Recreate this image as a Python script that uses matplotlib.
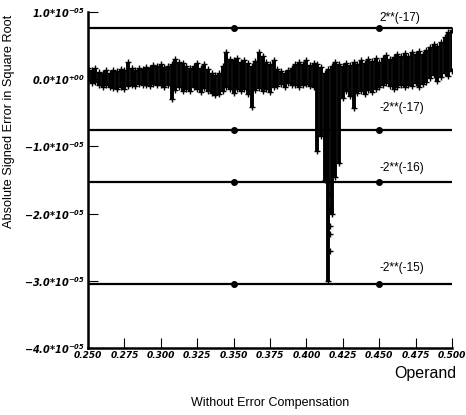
import numpy as np
import matplotlib
matplotlib.use("Agg")
import matplotlib.pyplot as plt

plt.rcParams['font.family'] = ['Liberation Sans', 'DejaVu Sans']
plt.rcParams['mathtext.fontset'] = 'custom'
plt.rcParams['mathtext.rm'] = 'DejaVu Sans:italic:bold'
plt.rcParams['mathtext.it'] = 'DejaVu Sans:italic:bold'
plt.rcParams['mathtext.bf'] = 'DejaVu Sans:italic:bold'

# operand samples (0.250 .. 0.500, step 0.0025)
operand = np.linspace(0.25, 0.5, 101)

# upper / lower extent of the error trace at each sample, in units of 1e-6
err_upper = [1.6, 1.4, 1.7, 1.1, 1.0, 1.3, 1.0, 1.4, 1.2, 1.5,
             1.3, 2.6, 1.6, 1.4, 1.7, 1.5, 1.8, 1.6, 2.1, 1.9,
             2.2, 1.8, 2.0, 2.3, 3.0, 2.6, 2.4, 1.9, 1.6, 2.0,
             2.4, 1.7, 2.2, 1.5, 0.9, 0.7, 1.0, 1.9, 4.0, 3.0,
             2.8, 3.2, 2.6, 2.9, 2.4, 2.0, 2.7, 4.0, 3.4, 2.5,
             2.2, 2.8, 1.5, 1.2, 1.0, 1.4, 1.7, 2.2, 2.5, 2.3,
             2.9, 2.1, 2.4, 2.2, 1.8, 1.0, 1.5, 2.0, 2.6, 2.2,
             2.0, 2.4, 2.1, 2.6, 2.2, 2.8, 2.4, 3.0, 2.7, 3.2,
             2.6, 3.1, 3.6, 3.0, 3.3, 3.8, 3.4, 3.9, 3.5, 4.0,
             3.7, 4.2, 3.8, 4.3, 4.8, 5.2, 4.9, 5.6, 6.3, 7.0,
             7.4]
err_lower = [-0.3, -0.5, -0.4, -0.9, -1.1, -0.8, -1.2, -1.3, -1.5, -1.1,
             -1.4, -1.0, -0.8, -1.0, -0.7, -0.9, -0.8, -1.0, -0.7, -0.9,
             -0.8, -1.1, -0.9, -3.0, -1.6, -1.2, -1.8, -1.4, -1.7, -1.2,
             -1.5, -1.9, -1.3, -1.8, -2.0, -2.4, -2.2, -1.8, -1.2, -1.5,
             -2.0, -1.4, -1.8, -1.5, -2.2, -4.1, -1.6, -1.3, -1.8, -1.4,
             -1.9, -1.2, -1.0, -0.7, -1.1, -0.6, -0.9, -0.8, -1.1, -0.9,
             -0.7, -1.0, -1.2, -10.7, -8.5, -15.0, -30.0, -20.0, -14.5, -12.5,
             -2.8, -1.8, -2.5, -4.3, -2.0, -1.8, -2.2, -1.6, -1.9, -1.4,
             -1.2, -0.9, -0.6, -1.0, -1.4, -1.2, -0.9, -1.1, -0.8, -1.0,
             -0.6, -1.1, -0.7, -0.4, 0.2, 0.6, -0.2, 0.4, 0.9, 0.5,
             1.2]

# isolated samples down the deep spike
spike_operand = [0.4165, 0.4165, 0.4165, 0.4165, 0.4165]
spike_err = [-17.1, -19.3, -21.9, -23.1, -25.6]

# reference levels
ref_values = [2.0 ** -17, -2.0 ** -17, -2.0 ** -16, -2.0 ** -15]
ref_labels = ["2**(-17)", "-2**(-17)", "-2**(-16)", "-2**(-15)"]
ref_marks = [0.35, 0.45]

yticks = [1e-5, 0.0, -1e-5, -2e-5, -3e-5, -4e-5]
yticklabels = [r"$1.0{*}10^{-05}$", r"$0.0{*}10^{+00}$", r"$-1.0{*}10^{-05}$",
               r"$-2.0{*}10^{-05}$", r"$-3.0{*}10^{-05}$", r"$-4.0{*}10^{-05}$"]
xticks = [0.250, 0.275, 0.300, 0.325, 0.350, 0.375, 0.400, 0.425, 0.450, 0.475, 0.500]

upper = np.array(err_upper) * 1e-6
lower = np.array(err_lower) * 1e-6

fig = plt.figure(figsize=(4.66, 4.15), dpi=100)
ax = fig.add_axes([0.1888, 0.1614, 0.7811, 0.8096])

label_offsets = [7, 16, 10, 12]
for val, lab, off in zip(ref_values, ref_labels, label_offsets):
    ax.plot([0.25, 0.5], [val, val], color='black', lw=1.6, zorder=2)
    ax.plot(ref_marks, [val] * len(ref_marks), 'o', color='black', ms=4, zorder=3)
    ax.annotate(lab, xy=(0.4505, val), xytext=(0, off), textcoords='offset points',
                fontsize=8.5, ha='left', va='center')

ax.vlines(operand, lower, upper, color='black', lw=2.8, zorder=4)
ax.plot(operand, upper, '+', color='black', ms=4.5, mew=1, zorder=5)
ax.plot(operand, lower, '+', color='black', ms=4.5, mew=1, zorder=5)
ax.plot(spike_operand, np.array(spike_err) * 1e-6, '+', color='black', ms=4, mew=1, zorder=5)

ax.set_xlim(0.25, 0.5)
ax.set_ylim(-4e-5, 1e-5)
ax.set_yticks(yticks)
ax.set_yticklabels(yticklabels, fontsize=7)
ax.set_xticks(xticks)
ax.set_xticklabels(["%.3f" % t for t in xticks], fontsize=6.5,
                   fontstyle='italic', fontweight='bold', family='DejaVu Sans')
ax.tick_params(axis='both', direction='in', length=7, width=0.8, color='black')
ax.tick_params(axis='x', pad=2.5)
ax.tick_params(axis='y', pad=2)

for side in ['top', 'right']:
    ax.spines[side].set_visible(False)
for side in ['left', 'bottom']:
    ax.spines[side].set_linewidth(1.8)

ax.set_ylabel("Absolute Signed Error in Square Root", fontsize=9.2)
ax.yaxis.set_label_coords(-0.200, 0.676)
ax.text(1.011, -0.075, "Operand", transform=ax.transAxes, ha='right', va='center', fontsize=11.5)
fig.text(0.58, 0.029, "Without Error Compensation", ha='center', va='center', fontsize=9)

fig.savefig("out.png", dpi=100)
